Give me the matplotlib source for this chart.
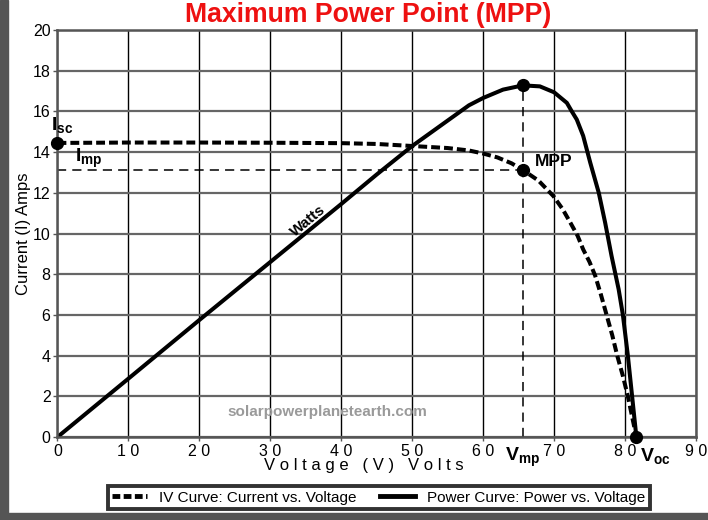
import matplotlib.pyplot as plt
from matplotlib.patches import Rectangle
from matplotlib.lines import Line2D

#Data
iv_volts = [0, 10, 20, 30, 40, 45, 50, 55, 58, 60, 62, 64, 65.6, 67.8, 69.9, 71.2, 72.3, 73.3, 74.1,
            75, 75.8, 76.6, 77.4, 78.2, 78.9, 79.7, 80.4, 81.0, 81.6]
iv_amps = [14.45, 14.47, 14.47, 14.46, 14.44, 14.4, 14.3, 14.2, 14.08, 13.93, 13.74, 13.45, 13.12, 12.6, 11.84,
           11.2, 10.53, 9.9, 9.22, 8.6, 7.92, 7.0, 6.0, 5.0, 4.0, 3.0, 2.0, 1.0, 0]

pw_volts = [0, 10, 20, 30, 40, 45, 50, 55, 58, 60, 62.8, 65.6, 68, 70, 71.8, 72.5, 73.2, 74.1, 75.1,
            76.3, 77.2, 78.1, 79.1, 79.7, 80.4, 81.0, 81.6]
pw_power = [0, 2.87, 5.75, 8.6, 11.45, 12.9, 14.3, 15.55, 16.3, 16.66, 17.07, 17.28, 17.23, 16.94, 16.42,
            16.0, 15.6, 14.8, 13.48, 12.0, 10.53, 8.9, 7.26, 6.0, 4.0, 2.0, 0]

isc = 14.45
vmp = 65.6
imp = 13.12
pmax = 17.28
voc = 81.6

x_ticks = [0, 10, 20, 30, 40, 50, 60, 70, 80, 90]
y_ticks = [0, 2, 4, 6, 8, 10, 12, 14, 16, 18, 20]

plt.rcParams['font.family'] = ['Liberation Sans', 'DejaVu Sans']
plt.rcParams['mathtext.fontset'] = 'custom'
plt.rcParams['mathtext.rm'] = 'Liberation Sans'
plt.rcParams['mathtext.bf'] = 'Liberation Sans:bold'

fig = plt.figure(figsize=(7.08, 5.2), dpi=100)
ax = fig.add_axes([0.0812, 0.1596, 0.983 - 0.0812, 0.9423 - 0.1596])

#Curves
ax.plot(iv_volts, iv_amps, color='black', lw=2.9, dashes=(2.2, 1.0), dash_joinstyle='round')
ax.plot(pw_volts, pw_power, color='black', lw=2.9, solid_joinstyle='round')

#Reference lines to the MPP
ax.plot([0, vmp], [imp, imp], color='black', lw=1.1, dashes=(6, 4))
ax.plot([vmp, vmp], [0, pmax], color='black', lw=1.1, dashes=(6, 4))

#Points
ax.plot([0, vmp, vmp, voc], [isc, imp, pmax, 0], 'o', color='black', ms=8.5, clip_on=False, zorder=5)

#Labels
ax.text(-0.9, isc + 0.4, r'$\mathbf{I_{sc}}$', fontsize=14, ha='left', va='bottom')
ax.text(2.5, imp, r'$\mathbf{I_{mp}}$', fontsize=14, ha='left', va='bottom')
ax.text(67.3, imp + 0.05, 'MPP', fontsize=12.5, fontweight='bold', ha='left', va='bottom')
ax.text(35.3, 10.6, 'Watts', fontsize=11, fontweight='bold', rotation=39.5,
        ha='center', va='center')
ax.text(38.1, 1.25, 'solarpowerplanetearth.com', fontsize=11, fontweight='bold',
        color='#9a9a9a', ha='center', va='center')
ax.text(vmp, -0.45, r'$\mathbf{V_{mp}}$', fontsize=14, ha='center', va='top')
ax.text(voc + 2.7, -0.45, r'$\mathbf{V_{oc}}$', fontsize=14, ha='center', va='top')

#Axes
ax.set_xlim(0, 90)
ax.set_ylim(0, 20)
ax.set_xticks(x_ticks)
ax.set_yticks(y_ticks)
ax.set_xticklabels([' '.join(str(t)) for t in x_ticks], fontsize=11.5)
ax.set_yticklabels([str(t) for t in y_ticks], fontsize=11.5)
ax.tick_params(length=3, width=1, color='#555555', pad=2)
ax.xaxis.grid(True, color='black', lw=1)
ax.yaxis.grid(True, color='#666666', lw=1.6)
for s in ax.spines.values():
    s.set_color('#555555')
    s.set_linewidth(1.8)

ax.set_xlabel('V o l t a g e   ( V )   V o l t s', fontsize=12)
ax.xaxis.set_label_coords(0.48, -0.052)
ax.set_ylabel('Current (I) Amps', fontsize=12, labelpad=1)

fig.text(0.52, 0.972, 'Maximum Power Point (MPP)', color='#ee1111', fontsize=19.2,
         fontweight='bold', ha='center', va='center')

#Legend
handles = [Line2D([0], [0], color='black', lw=3.5, dashes=(1.6, 0.7)),
           Line2D([0], [0], color='black', lw=3.5)]
leg = fig.legend(handles, ['IV Curve: Current vs. Voltage', 'Power Curve: Power vs. Voltage'],
                 loc='center', bbox_to_anchor=(0.535, 0.043), ncol=2, fancybox=False,
                 edgecolor='black', fontsize=11, handlelength=2.3, columnspacing=1.5,
                 borderpad=0.3, handletextpad=0.8)
leg.get_frame().set_linewidth(2.8)

#Border shadow
fig.patches.append(Rectangle((0, 0), 0.011, 1, transform=fig.transFigure, color='#555555'))
fig.patches.append(Rectangle((0, 0), 1, 0.013, transform=fig.transFigure, color='#555555'))

fig.savefig('out.png', dpi=100)
